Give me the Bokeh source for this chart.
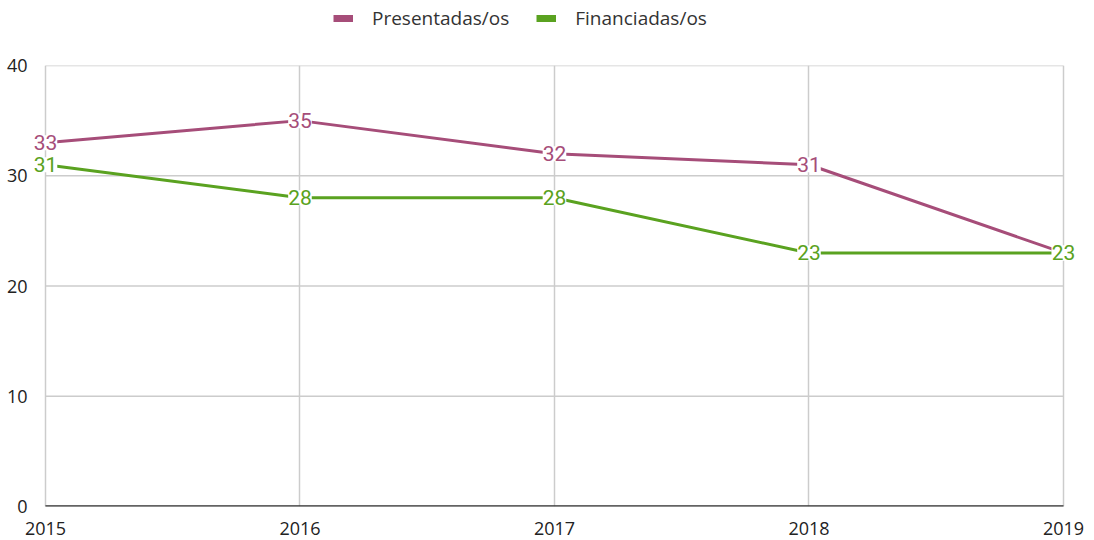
from bokeh.plotting import figure
from bokeh.layouts import column
from bokeh.models import ColumnDataSource, Legend, LegendItem, FixedTicker, Label
from bokeh.embed import file_html
from bokeh.resources import INLINE

years = [2015, 2016, 2017, 2018, 2019]
presentadas = [33, 35, 32, 31, 23]
financiadas = [31, 28, 28, 23, 23]
series_names = ["Presentadas/os", "Financiadas/os"]
colors = ["#a64d79", "#5aa220"]
y_ticks = [0, 10, 20, 30, 40]

# ---- legend strip ----
lg = figure(width=1094, height=36, output_backend="svg", toolbar_location=None,
            x_axis_location=None, y_axis_location=None, min_border=0,
            x_range=(0, 1), y_range=(0, 1))
lg.outline_line_color = None
lg.grid.visible = False
sw_p = lg.line([5, 6], [5, 5], line_color=colors[0], line_width=7)
sw_f = lg.line([5, 6], [5, 5], line_color=colors[1], line_width=7)
legend = Legend(items=[LegendItem(label=series_names[0], renderers=[sw_p]),
                       LegendItem(label=series_names[1], renderers=[sw_f])],
                orientation="horizontal", location=(300, 5),
                label_text_font="Open Sans", label_text_font_size="19px",
                label_text_color="#333333", glyph_width=20, glyph_height=20,
                spacing=27, label_standoff=19, border_line_color=None,
                background_fill_alpha=0, padding=0, margin=0)
lg.add_layout(legend, "center")

# ---- main chart ----
pad_l, pad_r = 0.047, 0.059
p = figure(width=1094, frame_width=1045, frame_height=441, output_backend="svg",
           toolbar_location=None,
           x_range=(years[0] - pad_l, years[-1] + pad_r), y_range=(y_ticks[0], y_ticks[-1]),
           min_border_left=33, min_border_right=16, min_border_bottom=10, min_border_top=29)
p.outline_line_color = None
p.background_fill_color = "white"

# horizontal gridlines and baseline limited to the year span
n = len(y_ticks)
p.segment(x0=[years[0]] * n, x1=[years[-1]] * n, y0=y_ticks, y1=y_ticks,
          line_color="#cccccc", line_width=1.5)
p.segment(x0=[years[0]], x1=[years[-1]], y0=[y_ticks[0]], y1=[y_ticks[0]],
          line_color="#333333", line_width=2.5)

src_p = ColumnDataSource(dict(x=years, y=presentadas))
src_f = ColumnDataSource(dict(x=years, y=financiadas))

p.line("x", "y", source=src_p, line_color=colors[0], line_width=3)
p.line("x", "y", source=src_f, line_color=colors[1], line_width=3)

for vals, c in ((presentadas, colors[0]), (financiadas, colors[1])):
    for xv, yv in zip(years, vals):
        p.add_layout(Label(x=xv, y=yv, text=str(yv), text_color=c, text_font="Roboto",
                           text_font_size="21px", text_align="center", text_baseline="middle",
                           background_fill_color="white"))

p.xaxis.ticker = FixedTicker(ticks=years)
p.yaxis.ticker = FixedTicker(ticks=y_ticks)
for ax in (p.xaxis, p.yaxis):
    ax.major_tick_line_color = None
    ax.minor_tick_line_color = None
    ax.axis_line_color = None
    ax.major_label_text_font = "Open Sans"
    ax.major_label_text_font_size = "18px"
    ax.major_label_text_color = "#222222"
p.xaxis.major_label_standoff = 9
p.yaxis.major_label_standoff = 0

p.xgrid.ticker = FixedTicker(ticks=years)
p.xgrid.grid_line_color = "#cccccc"
p.xgrid.grid_line_width = 1.5
p.ygrid.visible = False

layout = column(lg, p, spacing=0)
open("out.html", "w").write(file_html(layout, INLINE))
